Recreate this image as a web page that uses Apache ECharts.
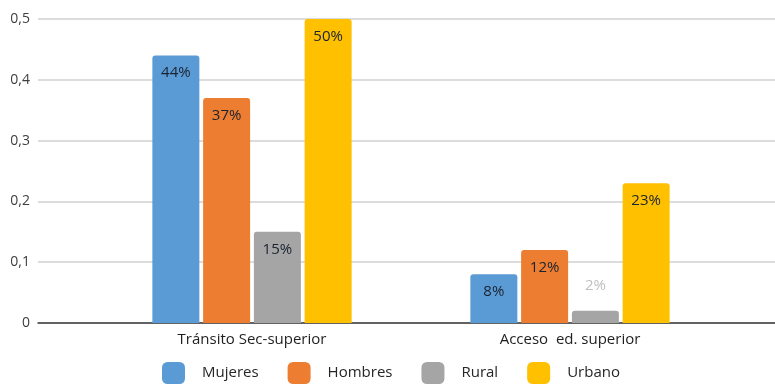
<!DOCTYPE html>
<html><head><meta charset="utf-8">
<script src="https://cdn.jsdelivr.net/npm/echarts@6/dist/echarts.min.js"></script>
<style>html,body{margin:0;padding:0;background:#fff}#c{width:775px;height:390px}</style>
</head><body><div id="c"></div>
<script>
const categories = ['Tránsito Sec-superior', 'Acceso  ed. superior'];
const seriesNames = ['Mujeres', 'Hombres', 'Rural', 'Urbano'];
const mujeres = [0.44, 0.08];
const hombres = [0.37, 0.12];
const rural = [0.15, 0.02];
const urbano = [0.50, 0.23];
const yTicks = ['0', '0,1', '0,2', '0,3', '0,4', '0,5'];
const labels = [['44%', '8%'], ['37%', '12%'], ['15%', '2%'], ['50%', '23%']];

const colors = ['#5B9BD5', '#ED7D31', '#A5A5A5', '#FFC000'];
const values = [mujeres, hombres, rural, urbano];
const FONT = '"Open Sans", sans-serif';

const chart = echarts.init(document.getElementById('c'));
const series = seriesNames.map((n, i) => ({
  name: n, type: 'bar', xAxisIndex: 1, yAxisIndex: 1,
  barWidth: 47, barGap: '8%',
  itemStyle: { color: colors[i], borderRadius: [3, 3, 0, 0] },
  data: values[i].map((v, j) => {
    const lowInside = v < 0.05;
    return {
      value: v,
      label: {
        show: true,
        formatter: labels[i][j],
        position: lowInside ? 'top' : 'insideTop',
        distance: lowInside ? 18 : 10,
        color: lowInside ? '#BFBFBF' : '#1A2330',
        fontSize: 15, fontFamily: FONT
      }
    };
  })
}));

chart.setOption({
  animation: false,
  color: colors,
  grid: [
    { left: 38, right: 0, top: 19, bottom: 67 },
    { left: 93, right: 46, top: 19, bottom: 67 }
  ],
  legend: {
    data: seriesNames, bottom: 1, left: 157,
    itemWidth: 23, itemHeight: 22, itemGap: 29,
    icon: 'roundRect',
    textStyle: { color: '#262626', fontSize: 15, fontFamily: FONT, padding: [0, 0, 0, 12] }
  },
  xAxis: [
    { gridIndex: 0, type: 'category', data: ['', ''], axisLine: { lineStyle: { color: '#3a3a3a', width: 1.5 } },
      axisTick: { show: false }, axisLabel: { show: false } },
    { gridIndex: 1, type: 'category', data: categories, axisLine: { show: false }, axisTick: { show: false },
      axisLabel: { color: '#1F1F1F', fontSize: 15, fontFamily: FONT, margin: 9 } }
  ],
  yAxis: [
    { gridIndex: 0, type: 'value', min: 0, max: 0.5, interval: 0.1,
      axisLine: { show: false }, axisTick: { show: false },
      splitLine: { lineStyle: { color: '#D0D0D0', width: 1.5 } },
      axisLabel: { color: '#404040', fontSize: 14, fontFamily: FONT, margin: 8,
        formatter: (v) => yTicks[Math.round(v * 10)] } },
    { gridIndex: 1, type: 'value', min: 0, max: 0.5, interval: 0.1, show: false, splitLine: { show: false } }
  ],
  series: series
});
</script></body></html>
